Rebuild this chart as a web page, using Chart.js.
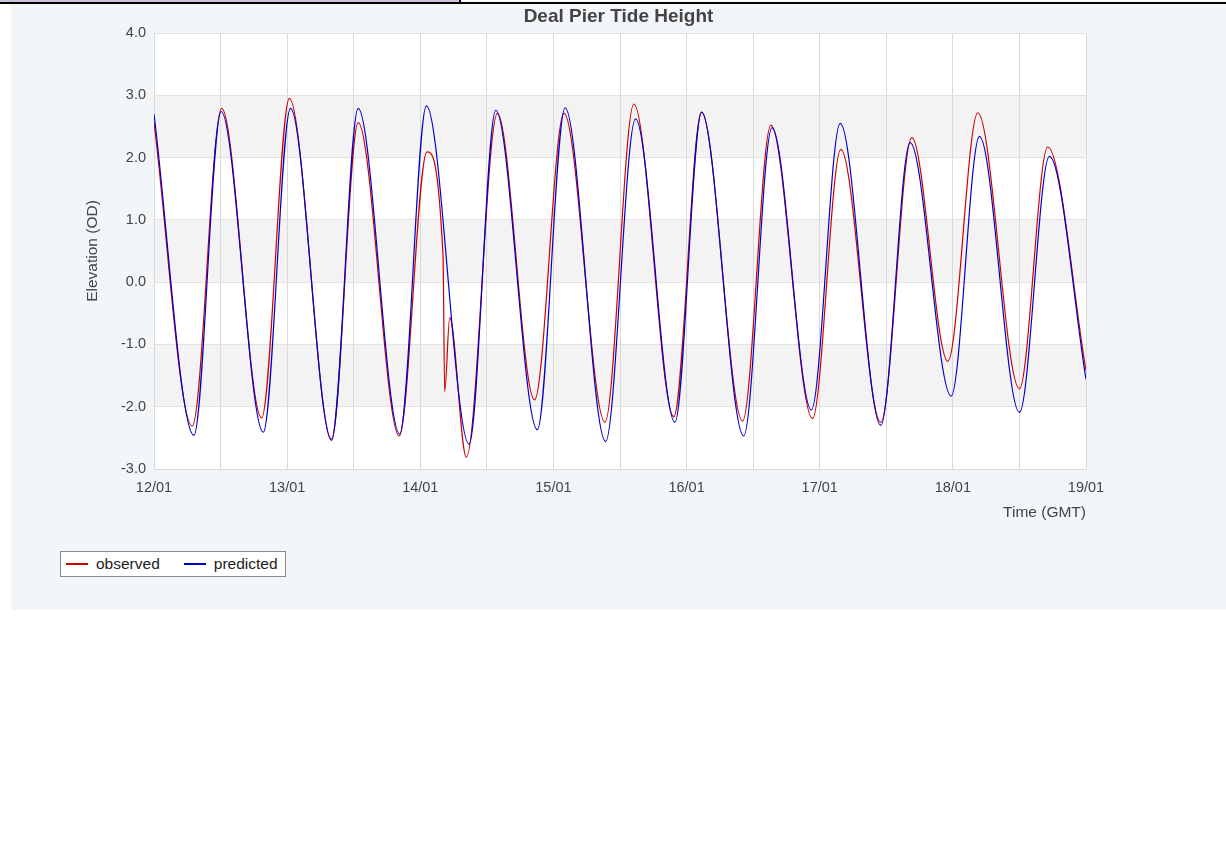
<!DOCTYPE html>
<html>
<head>
<meta charset="utf-8">
<title>Deal Pier Tide Height</title>
<script src="https://cdn.jsdelivr.net/npm/chart.js@4/dist/chart.umd.min.js"></script>
<style>
    body { margin: 0; background: #fff; font-family: "Liberation Sans", Arial, sans-serif; }
    #topStrip { position: absolute; left: 0; top: 0; width: 459px; height: 2px; background: #c9c1dd; }
    #topLine { position: absolute; left: 0; top: 2px; width: 1226px; height: 2px; background: #000; }
    #topTick { position: absolute; left: 459px; top: 0; width: 2px; height: 4px; background: #000; }
    #panel { position: absolute; left: 11px; top: 4px; width: 1215px; height: 606px; background: #f3f6f9; }
    #tideChart { position: absolute; left: 0; top: 0; }
    #legend {
        position: absolute; left: 49px; top: 547px; height: 24px;
        background: #fff; border: 1px solid #8a8a8a;
        display: flex; align-items: center; padding: 0 7px 0 5px;
        font-size: 15.5px; color: #222;
    }
    #legend .item { display: flex; align-items: center; margin-right: 24px; }
    #legend .item:last-child { margin-right: 0; }
    #legend .swatch { width: 22px; height: 2px; margin-right: 8px; }
</style>
</head>
<body>
<div id="topStrip"></div>
<div id="topLine"></div>
<div id="topTick"></div>
<div id="panel">
    <canvas id="tideChart" width="1215" height="526"></canvas>
    <div id="legend"></div>
</div>

<script>
// hours since 12/01 00:00 GMT at each turning point

const dayLabels = ['12/01', '13/01', '14/01', '15/01', '16/01', '17/01', '18/01', '19/01'];

const observedHours = [0, 6.9, 12.2, 19.4, 24.4, 32.0, 36.8, 44.2, 49.2, 52.1, 52.4, 53.3, 56.3,
    61.9, 68.6, 73.9, 81.3, 86.5, 93.7, 98.7, 106.1, 111.2, 118.7, 123.8, 131.0,
    136.6, 143.1, 148.5, 156.0, 161.1, 168];
const observedValues = [2.57, -2.31, 2.79, -2.18, 2.95, -2.52, 2.56, -2.47, 2.09, 0.42, -1.76, -0.57, -2.81,
    2.71, -1.89, 2.71, -2.25, 2.86, -2.16, 2.73, -2.23, 2.52, -2.19, 2.13, -2.25,
    2.32, -1.27, 2.72, -1.71, 2.17, -1.42];

const predictedHours = [0, 7.2, 12.1, 19.7, 24.6, 32.0, 36.8, 44.3, 49.1, 56.8,
    61.6, 69.1, 74.1, 81.4, 86.8, 93.9, 98.7, 106.3, 111.4, 118.5, 123.7, 131.0,
    136.3, 143.7, 148.8, 156.0, 161.4, 168];
const predictedValues = [2.70, -2.46, 2.74, -2.41, 2.79, -2.54, 2.79, -2.44, 2.83, -2.60,
    2.76, -2.37, 2.80, -2.56, 2.62, -2.25, 2.73, -2.47, 2.48, -2.05, 2.55, -2.30,
    2.24, -1.83, 2.34, -2.09, 2.02, -1.56];

const seriesNames = ['observed', 'predicted'];
const seriesColors = ['#cc0000', '#0000cc'];

const fontFamily = '"Liberation Sans", Arial, sans-serif';

function toPoints(hours, values) {
    return hours.map((h, i) => ({ x: h, y: values[i] }));
}

// grey stripes behind the grid, every other 1.0 band
const bandPlugin = {
    id: 'bands',
    beforeDraw(chart) {
        const { ctx, chartArea: area, scales: { y } } = chart;
        ctx.save();
        ctx.fillStyle = '#ffffff';
        ctx.fillRect(area.left, area.top, area.right - area.left, area.bottom - area.top);
        ctx.fillStyle = '#f3f3f3';
        [[2, 3], [0, 1], [-2, -1]].forEach(([lo, hi]) => {
            const top = y.getPixelForValue(hi);
            const bottom = y.getPixelForValue(lo);
            ctx.fillRect(area.left, top, area.right - area.left, bottom - top);
        });
        ctx.restore();
    }
};

const ctx = document.getElementById('tideChart').getContext('2d');
new Chart(ctx, {
    type: 'line',
    data: {
        datasets: [
            {
                label: seriesNames[0],
                data: toPoints(observedHours, observedValues),
                borderColor: seriesColors[0],
                borderWidth: 1.2,
                pointRadius: 0,
                cubicInterpolationMode: 'monotone',
                order: 1
            },
            {
                label: seriesNames[1],
                data: toPoints(predictedHours, predictedValues),
                borderColor: seriesColors[1],
                borderWidth: 1.2,
                pointRadius: 0,
                cubicInterpolationMode: 'monotone',
                order: 0
            }
        ]
    },
    options: {
        responsive: false,
        animation: false,
        devicePixelRatio: 1,
        layout: { padding: 0 },
        plugins: {
            legend: { display: false },
            tooltip: { enabled: false },
            title: {
                display: true,
                text: 'Deal Pier Tide Height',
                color: '#444',
                font: { family: fontFamily, size: 19, weight: 'bold' },
                padding: { top: 1, bottom: 5.2 }
            }
        },
        scales: {
            x: {
                type: 'linear',
                min: 0,
                max: 168,
                afterFit: s => { s.height = 61; },
                grid: { color: '#d9d9d9', drawTicks: false },
                border: { color: '#d9d9d9' },
                ticks: {
                    stepSize: 12,
                    autoSkip: false,
                    maxRotation: 0,
                    padding: 10,
                    color: '#444',
                    font: { family: fontFamily, size: 14.5 },
                    callback: v => (v % 24 === 0 ? dayLabels[v / 24] : '')
                },
                title: {
                    display: true,
                    text: 'Time (GMT)',
                    align: 'end',
                    color: '#444',
                    font: { family: fontFamily, size: 15.5 },
                    padding: { top: 0, bottom: 8 }
                }
            },
            y: {
                min: -3,
                max: 4,
                afterFit: s => { s.width = 143; },
                grid: { color: '#e2e2e2', drawTicks: false },
                border: { color: '#d9d9d9' },
                ticks: {
                    stepSize: 1,
                    padding: 8,
                    color: '#444',
                    font: { family: fontFamily, size: 14.5 },
                    callback: v => v.toFixed(1)
                },
                title: {
                    display: true,
                    text: 'Elevation (OD)',
                    color: '#444',
                    font: { family: fontFamily, size: 15.5 },
                    padding: { top: 72, bottom: 4 }
                }
            },
            // empty right-hand axis, only keeps the plot clear of the right margin
            yRight: {
                position: 'right',
                min: -3,
                max: 4,
                afterFit: s => { s.width = 140; },
                grid: { display: false, drawOnChartArea: false },
                border: { display: false },
                ticks: { display: false }
            }
        }
    },
    plugins: [bandPlugin]
});

// legend box below the chart, as in the reference
const legendEl = document.getElementById('legend');
seriesNames.forEach((name, i) => {
    const item = document.createElement('div');
    item.className = 'item';
    item.innerHTML = `<span class="swatch" style="background:${seriesColors[i]}"></span><span>${name}</span>`;
    legendEl.appendChild(item);
});
</script>
</body>
</html>
